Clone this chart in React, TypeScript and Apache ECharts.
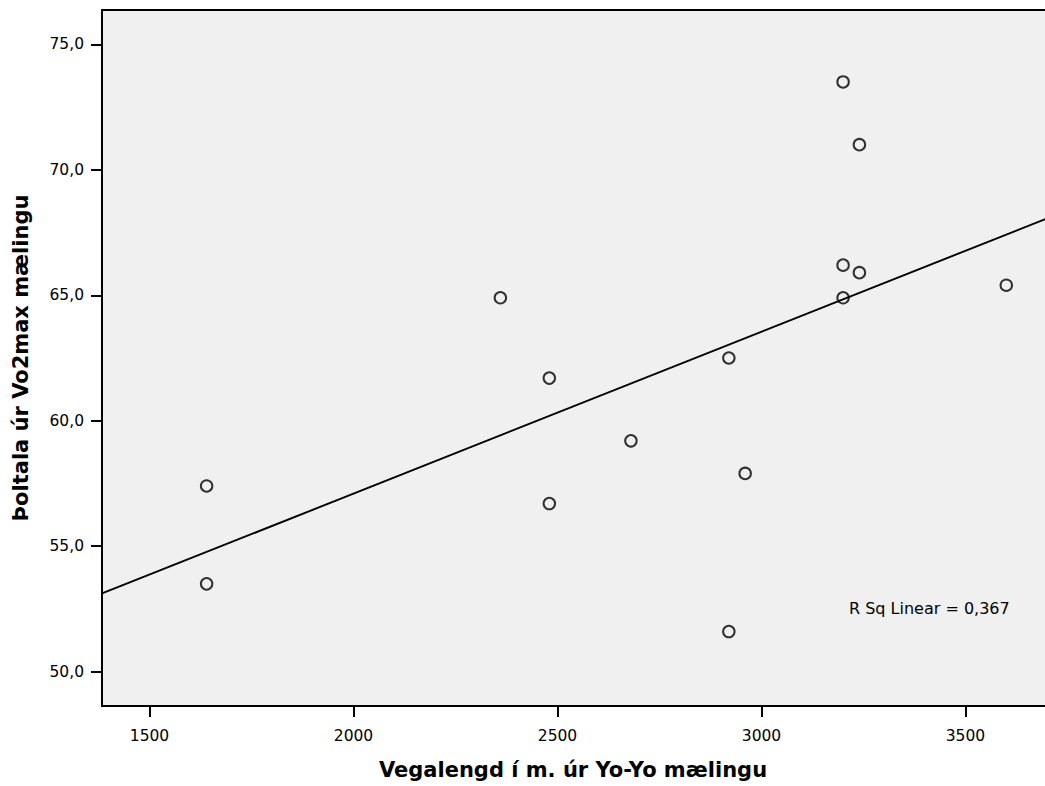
import React, { useEffect, useRef } from "react";
import * as echarts from "echarts";

// Data
const yoyoDistance: number[] = [1640, 1640, 2360, 2480, 2480, 2680, 2920, 2920, 2960, 3200, 3240, 3200, 3240, 3200, 3600];
const vo2maxScore: number[] = [57.4, 53.5, 64.9, 61.7, 56.7, 59.2, 62.5, 51.6, 57.9, 73.5, 71.0, 66.2, 65.9, 64.9, 65.4];

const xTicks: number[] = [1500, 2000, 2500, 3000, 3500];
const yTicks: number[] = [50, 55, 60, 65, 70, 75];

const xTitle = "Vegalengd í m. úr Yo-Yo mælingu";
const yTitle = "Þoltala úr Vo2max mælingu";
const rSqText = "R Sq Linear = 0,367";

const X_MIN = 1383.6;
const X_MAX = 3815;
const Y_MIN = 48.633;
const Y_MAX = 76.367;

function linearFit(xs: number[], ys: number[]) {
  const n = xs.length;
  const mx = xs.reduce((a, b) => a + b, 0) / n;
  const my = ys.reduce((a, b) => a + b, 0) / n;
  let sxy = 0;
  let sxx = 0;
  for (let i = 0; i < n; i++) {
    sxy += (xs[i] - mx) * (ys[i] - my);
    sxx += (xs[i] - mx) * (xs[i] - mx);
  }
  const slope = sxy / sxx;
  const intercept = my - slope * mx;
  return (x: number) => intercept + slope * x;
}

const FONT = "'DejaVu Sans', 'Liberation Sans', Arial, sans-serif";

export default function App() {
  const ref = useRef<HTMLDivElement>(null);

  useEffect(() => {
    if (!ref.current) return;
    const chart = echarts.init(ref.current, undefined, { renderer: "svg" });
    const fit = linearFit(yoyoDistance, vo2maxScore);
    const points = yoyoDistance.map((x, i) => [x, vo2maxScore[i]]);

    chart.setOption({
      animation: false,
      backgroundColor: "#ffffff",
      textStyle: { fontFamily: FONT },
      grid: {
        left: 102,
        top: 10,
        bottom: 80,
        right: 6,
        show: true,
        backgroundColor: "#f0f0f0",
        borderColor: "#000000",
        borderWidth: 2,
      },
      xAxis: {
        type: "value",
        min: X_MIN,
        max: X_MAX,
        axisLine: { show: false },
        splitLine: { show: false },
        axisTick: {
          show: true,
          length: 11,
          customValues: xTicks,
          lineStyle: { color: "#000", width: 2 },
        },
        axisLabel: {
          customValues: xTicks,
          color: "#000",
          fontSize: 15.5,
          fontFamily: FONT,
          margin: 22,
          formatter: (v: number) => String(Math.round(v)),
        },
      },
      yAxis: {
        type: "value",
        min: Y_MIN,
        max: Y_MAX,
        axisLine: { show: false },
        splitLine: { show: false },
        axisTick: {
          show: true,
          length: 11,
          customValues: yTicks,
          lineStyle: { color: "#000", width: 2 },
        },
        axisLabel: {
          customValues: yTicks,
          color: "#000",
          fontSize: 15.5,
          fontFamily: FONT,
          margin: 18,
          padding: [6, 0, 0, 0],
          formatter: (v: number) => v.toFixed(1).replace(".", ","),
        },
      },
      series: [
        {
          type: "line",
          data: [
            [X_MIN, fit(X_MIN)],
            [X_MAX, fit(X_MAX)],
          ],
          showSymbol: false,
          silent: true,
          lineStyle: { color: "#000", width: 1.9 },
          z: 2,
        },
        {
          type: "scatter",
          data: points,
          symbol: "circle",
          symbolSize: 11.5,
          itemStyle: {
            color: "rgba(0,0,0,0)",
            borderColor: "#000",
            borderWidth: 2,
          },
          z: 3,
        },
      ],
      graphic: [
        {
          type: "text",
          x: 573,
          y: 770,
          style: {
            text: xTitle,
            fontSize: 21,
            fontWeight: "bold",
            fontFamily: FONT,
            fill: "#000",
            align: "center",
            verticalAlign: "middle",
          },
        },
        {
          type: "text",
          x: 21,
          y: 358,
          rotation: Math.PI / 2,
          style: {
            text: yTitle,
            fontSize: 21,
            fontWeight: "bold",
            fontFamily: FONT,
            fill: "#000",
            align: "center",
            verticalAlign: "middle",
          },
        },
        {
          type: "text",
          x: 849,
          y: 608,
          style: {
            text: rSqText,
            fontSize: 16,
            fontFamily: FONT,
            fill: "#000",
            align: "left",
            verticalAlign: "middle",
          },
        },
      ],
    });

    return () => {
      chart.dispose();
    };
  }, []);

  return (
    <div
      style={{
        position: "fixed",
        left: 0,
        top: 0,
        width: 1045,
        height: 786,
        overflow: "hidden",
        background: "#fff",
      }}
    >
      <div ref={ref} style={{ width: 1100, height: 786 }} />
    </div>
  );
}
